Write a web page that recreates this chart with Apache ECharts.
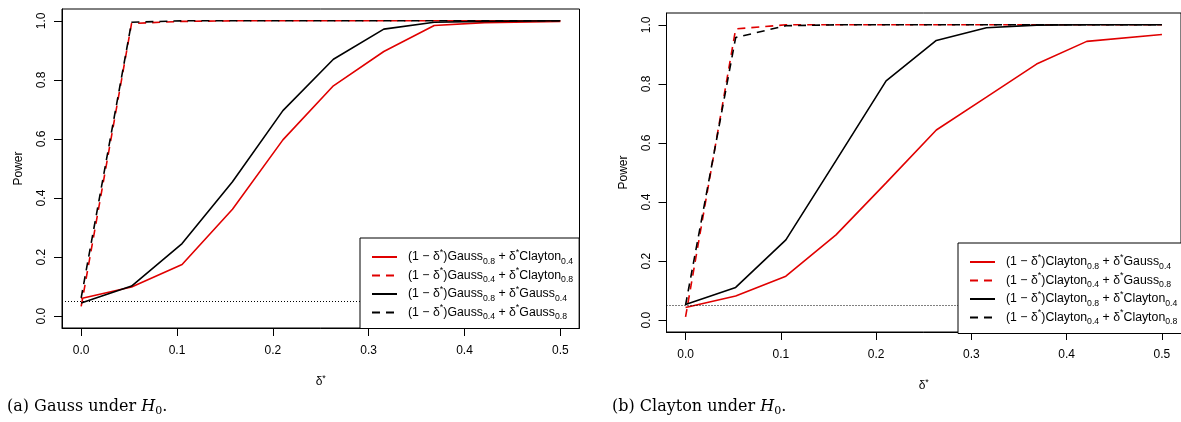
<!DOCTYPE html>
<html><head><meta charset="utf-8">
<script src="https://cdn.jsdelivr.net/npm/echarts@6/dist/echarts.min.js"></script>
<style>html,body{margin:0;padding:0;background:#fff}#c{width:1181px;height:422px}</style>
</head><body><div id="c"></div>
<script>
// ---- data ----
const delta = [0, 0.0526, 0.1053, 0.1579, 0.2105, 0.2632, 0.3158, 0.3684, 0.4211, 0.5];
const xTicks = [0, 0.1, 0.2, 0.3, 0.4, 0.5];
const yTicks = [0, 0.2, 0.4, 0.6, 0.8, 1.0];
const nominalLevel = 0.05;

// panel (a) Gauss under H0
const gaussG08C04 = [0.060, 0.099, 0.175, 0.362, 0.597, 0.780, 0.896, 0.984, 0.994, 0.998];
const gaussG04C08 = [0.033, 0.991, 0.998, 1.000, 1.000, 1.000, 1.000, 1.000, 1.000, 1.000];
const gaussG08G04 = [0.045, 0.102, 0.246, 0.455, 0.696, 0.870, 0.972, 0.995, 0.998, 1.000];
const gaussG04G08 = [0.062, 0.995, 1.000, 1.000, 1.000, 1.000, 1.000, 1.000, 1.000, 1.000];

// panel (b) Clayton under H0
const claytonC08G04 = [0.043, 0.082, 0.149, 0.289, 0.465, 0.644, 0.755, 0.867, 0.944, 0.967];
const claytonC04G08 = [0.011, 0.986, 1.000, 1.000, 1.000, 1.000, 1.000, 1.000, 1.000, 1.000];
const claytonC08C04 = [0.053, 0.111, 0.272, 0.540, 0.810, 0.947, 0.990, 0.999, 1.000, 1.000];
const claytonC04C08 = [0.051, 0.957, 0.997, 1.000, 1.000, 1.000, 1.000, 1.000, 1.000, 1.000];

const captionA = '(a) Gauss under ';
const captionB = '(b) Clayton under ';

// ---- styling ----
const RED = '#E00000', BLACK = '#000000';
const FONT = 'Liberation Sans, Arial, Helvetica, sans-serif';
const SERIF = 'DejaVu Serif, serif';

const panels = [
  { items: [
    { first: 'Gauss', p1: '0.8', second: 'Clayton', p2: '0.4', values: gaussG08C04, color: RED, dash: 'solid' },
    { first: 'Gauss', p1: '0.4', second: 'Clayton', p2: '0.8', values: gaussG04C08, color: RED, dash: [8, 6] },
    { first: 'Gauss', p1: '0.8', second: 'Gauss', p2: '0.4', values: gaussG08G04, color: BLACK, dash: 'solid' },
    { first: 'Gauss', p1: '0.4', second: 'Gauss', p2: '0.8', values: gaussG04G08, color: BLACK, dash: [8, 6] }
  ]},
  { items: [
    { first: 'Clayton', p1: '0.8', second: 'Gauss', p2: '0.4', values: claytonC08G04, color: RED, dash: 'solid' },
    { first: 'Clayton', p1: '0.4', second: 'Gauss', p2: '0.8', values: claytonC04G08, color: RED, dash: [8, 6] },
    { first: 'Clayton', p1: '0.8', second: 'Clayton', p2: '0.4', values: claytonC08C04, color: BLACK, dash: 'solid' },
    { first: 'Clayton', p1: '0.4', second: 'Clayton', p2: '0.8', values: claytonC04C08, color: BLACK, dash: [8, 6] }
  ]}
];

const legendRich = {
  sp: { width: 6, lineHeight: 18 },
  b: { fontSize: 12.3, lineHeight: 18, fontFamily: FONT, color: '#000' },
  sup: { fontSize: 9, lineHeight: 1, verticalAlign: 'top', fontFamily: FONT, color: '#000' },
  sub: { fontSize: 8.7, lineHeight: 6, verticalAlign: 'bottom', fontFamily: FONT, color: '#000' }
};
const richLabel = {};
function seriesName(it) {
  return '(1-d*)' + it.first + it.p1 + '+d*' + it.second + it.p2;
}
panels.forEach(p => p.items.forEach(it => {
  richLabel[seriesName(it)] = '{sp|}{b|(1 − δ}{sup|*}{b|)' + it.first + '}{sub|' + it.p1 +
    '}{b| + δ}{sup|*}{b|' + it.second + '}{sub|' + it.p2 + '}';
}));

const grids = [
  { left: 62, top: 9, width: 517.5, height: 319 },
  { left: 666.5, top: 13, width: 517.5, height: 319 }
];

function xAxisFor(i) {
  return {
    gridIndex: i, type: 'value', min: -0.02, max: 0.52,
    axisLine: { show: true, onZero: false, lineStyle: { color: '#000', width: 1 } },
    axisTick: { show: true, length: 8, customValues: xTicks, lineStyle: { color: '#000' } },
    axisLabel: { customValues: xTicks, formatter: v => v.toFixed(1), margin: 17, color: '#000', fontSize: 12, fontFamily: FONT },
    splitLine: { show: false },
    name: '{d|δ}{s|*}', nameLocation: 'middle', nameGap: 46,
    nameTextStyle: { rich: {
      d: { fontSize: 12, lineHeight: 16, fontFamily: FONT, color: '#000' },
      s: { fontSize: 9, lineHeight: 2, verticalAlign: 'top', fontFamily: FONT, color: '#000' }
    }}
  };
}
function yAxisFor(i) {
  return {
    gridIndex: i, type: 'value', min: -0.04, max: 1.04,
    axisLine: { show: true, onZero: false, lineStyle: { color: '#000', width: 1 } },
    axisTick: { show: true, length: 8, customValues: yTicks, lineStyle: { color: '#000' } },
    axisLabel: { customValues: yTicks, formatter: v => v.toFixed(1), rotate: 90, margin: 14, color: '#000', fontSize: 12, fontFamily: FONT },
    splitLine: { show: false },
    name: 'Power', nameLocation: 'middle', nameGap: 37,
    nameTextStyle: { color: '#000', fontSize: 12, fontFamily: FONT }
  };
}

const series = [];
panels.forEach((p, gi) => {
  p.items.forEach((it, k) => {
    const s = {
      type: 'line', name: seriesName(it), xAxisIndex: gi, yAxisIndex: gi,
      data: delta.map((d, j) => [d, it.values[j]]),
      symbol: 'none', color: it.color,
      lineStyle: { color: it.color, width: 1.6, type: it.dash },
      z: 3
    };
    if (k === 0) {
      s.markLine = {
        silent: true, symbol: 'none', animation: false,
        label: { show: false },
        lineStyle: { color: '#000', width: 1, type: [1, 2] },
        data: [{ yAxis: nominalLevel }]
      };
    }
    series.push(s);
  });
});

const legends = [
  { left: 360, top: 238 },
  { left: 958, top: 243 }
].map((pos, gi) => ({
  left: pos.left, top: pos.top, orient: 'vertical',
  data: panels[gi].items.map(seriesName),
  backgroundColor: '#fff', borderColor: '#000', borderWidth: 1,
  padding: [10, 6, 7, 11], itemGap: 0.5, itemWidth: 25, itemHeight: 14,
  selectedMode: false,
  itemStyle: { opacity: 0, borderWidth: 0 },
  formatter: name => richLabel[name],
  textStyle: { rich: legendRich },
  z: 10
}));

const capRich = {
  r: { fontSize: 16, lineHeight: 20, fontFamily: SERIF, color: '#000' },
  i: { fontSize: 16, lineHeight: 20, fontFamily: SERIF, fontStyle: 'italic', color: '#000' },
  s: { fontSize: 11, lineHeight: 10, verticalAlign: 'bottom', fontFamily: SERIF, color: '#000' }
};

const chart = echarts.init(document.getElementById('c'), null, { renderer: 'canvas' });
chart.setOption({
  animation: false,
  backgroundColor: '#fff',
  grid: grids.map(g => Object.assign({ show: true, borderColor: '#000', borderWidth: 1, backgroundColor: 'transparent' }, g)),
  xAxis: [xAxisFor(0), xAxisFor(1)],
  yAxis: [yAxisFor(0), yAxisFor(1)],
  legend: legends,
  series: series,
  graphic: [
    { type: 'text', left: 7, top: 399, style: { text: '{r|' + captionA + '}{i|H}{s|0}{r|.}', rich: capRich } },
    { type: 'text', left: 612, top: 399, style: { text: '{r|' + captionB + '}{i|H}{s|0}{r|.}', rich: capRich } }
  ]
});
</script>
</body></html>
